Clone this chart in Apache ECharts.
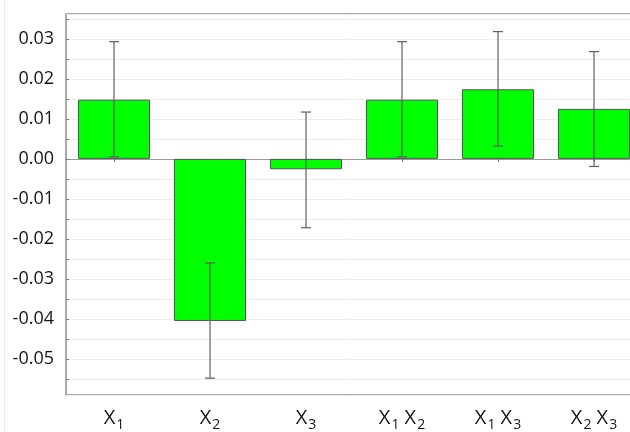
<!DOCTYPE html>
<html>
<head>
<meta charset="utf-8">
<script src="https://cdn.jsdelivr.net/npm/echarts@6/dist/echarts.min.js"></script>
<style>
  html, body { margin: 0; padding: 0; background: #fff; }
  #chart { width: 630px; height: 432px; }
</style>
</head>
<body>
<div id="chart"></div>
<script>
// Effect estimates with their confidence bounds
const categories = ['X1', 'X2', 'X3', 'X1 X2', 'X1 X3', 'X2 X3'];
const effects    = [0.0148, -0.0405, -0.0026, 0.0148, 0.0174, 0.0125];
const upperBound = [0.0293, -0.0260, 0.0117, 0.0293, 0.0318, 0.0268];
const lowerBound = [0.0005, -0.0548, -0.0172, 0.0005, 0.0032, -0.0019];

const FONT = '"Open Sans", sans-serif';
const TEXT = '#161616';
const FRAME = '#8f8f8f';

// "X1 X2" -> X with subscript digits, space kept at label size
function subscriptLabel(name) {
  return name.split(' ')
    .map(part => part.replace(/X(\d)/g, '{x|X}{s|$1}'))
    .join('{x| }');
}

const chart = echarts.init(document.getElementById('chart'), null, { renderer: 'canvas' });

chart.setOption({
  animation: false,
  backgroundColor: '#fff',
  graphic: [{
    type: 'line',
    shape: { x1: 4.5, y1: 0, x2: 4.5, y2: 432 },
    style: { stroke: '#ececec', lineWidth: 1 },
    silent: true
  }],
  grid: {
    left: 66, top: 14, right: -12, height: 381,
    outerBoundsMode: 'none',
    containLabel: false,
    show: true, borderColor: FRAME, borderWidth: 1.5, backgroundColor: 'transparent'
  },
  xAxis: [{
    type: 'category',
    data: categories,
    position: 'bottom',
    axisLine: { show: false, onZero: false },
    axisTick: { show: false },
    splitLine: { show: false },
    axisLabel: {
      interval: 0,
      margin: 9,
      formatter: subscriptLabel,
      rich: {
        x: { fontFamily: FONT, fontSize: 20, color: TEXT, lineHeight: 28 },
        s: { fontFamily: FONT, fontSize: 14, color: TEXT, verticalAlign: 'bottom', lineHeight: 12, padding: [0, 0, 0, 1] }
      }
    }
  }, {
    type: 'category',
    data: categories,
    position: 'bottom',
    axisLine: { show: true, onZero: true, lineStyle: { color: '#9a9a9a', width: 1.2 } },
    axisTick: { show: true, alignWithLabel: true, length: 3, lineStyle: { color: '#777' } },
    axisLabel: { show: false },
    splitLine: { show: false }
  }],
  yAxis: {
    type: 'value',
    min: -0.059,
    max: 0.0362,
    splitNumber: 19,
    minInterval: 0.005,
    maxInterval: 0.005,
    axisLine: { show: false },
    axisTick: { show: true, inside: true, length: 3, lineStyle: { color: '#777' } },
    splitLine: { show: true, lineStyle: { color: '#ececec', width: 1 } },
    axisLabel: {
      margin: 12,
      fontFamily: FONT,
      fontSize: 18,
      color: TEXT,
      showMinLabel: false,
      showMaxLabel: false,
      formatter: function (v) {
        const h = v * 100;
        return Math.abs(h - Math.round(h)) < 1e-6 ? v.toFixed(2) : '';
      }
    }
  },
  series: [{
    type: 'bar',
    xAxisIndex: 0,
    data: effects,
    barCategoryGap: '25%',
    itemStyle: { color: '#00ff00', borderColor: '#555', borderWidth: 1 },
    z: 2
  }, {
    type: 'custom',
    xAxisIndex: 0,
    z: 3,
    data: categories.map((c, i) => [i, lowerBound[i], upperBound[i]]),
    encode: { x: 0, y: [1, 2] },
    renderItem: function (params, api) {
      const i = api.value(0);
      const lo = api.coord([i, api.value(1)]);
      const hi = api.coord([i, api.value(2)]);
      const half = 5;
      const style = { stroke: '#5f5f5f', lineWidth: 1.2 };
      return {
        type: 'group',
        children: [
          { type: 'line', shape: { x1: hi[0], y1: hi[1], x2: lo[0], y2: lo[1] }, style: style },
          { type: 'line', shape: { x1: hi[0] - half, y1: hi[1], x2: hi[0] + half, y2: hi[1] }, style: style },
          { type: 'line', shape: { x1: lo[0] - half, y1: lo[1], x2: lo[0] + half, y2: lo[1] }, style: style }
        ]
      };
    }
  }]
});
</script>
</body>
</html>
